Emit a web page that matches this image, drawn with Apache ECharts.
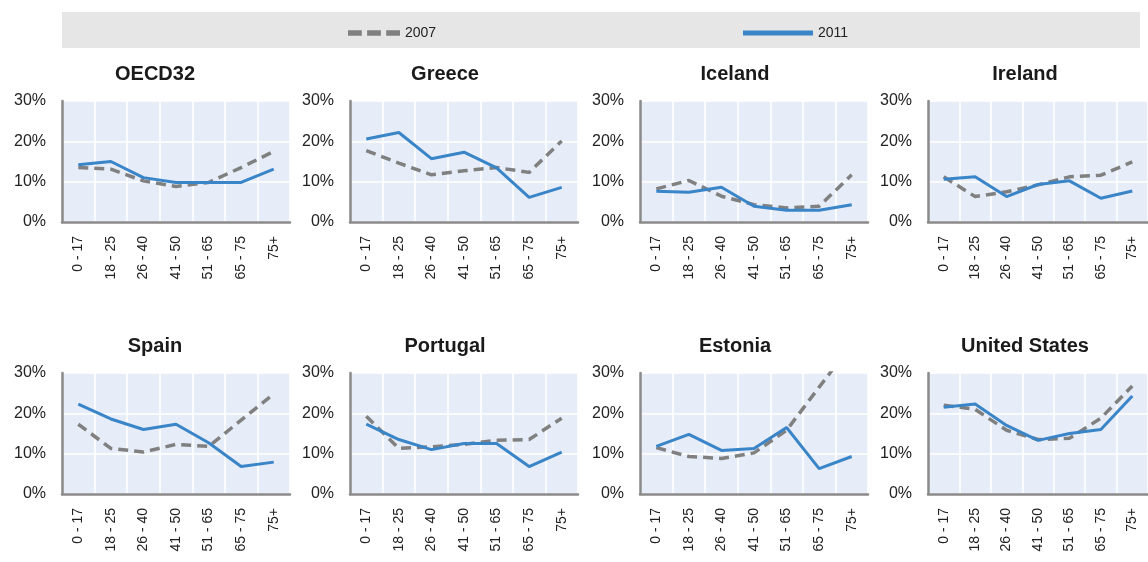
<!DOCTYPE html>
<html>
<head>
<meta charset="utf-8">
<script src="https://cdn.jsdelivr.net/npm/echarts@6/dist/echarts.min.js"></script>
<style>
html, body { margin: 0; padding: 0; background: #fff; }
#chart { width: 1148px; height: 562px; }
</style>
</head>
<body>
<div id="chart"></div>
<script>
// age groups on every x axis
var ages = ['0 - 17', '18 - 25', '26 - 40', '41 - 50', '51 - 65', '65 - 75', '75+'];
var countries = ['OECD32', 'Greece', 'Iceland', 'Ireland', 'Spain', 'Portugal', 'Estonia', 'United States'];
var yTicks = [0, 10, 20, 30];

// poverty rates (%)
var oecd2007 = [13.5, 13.1, 10.2, 8.8, 9.8, 13.5, 17.5];
var oecd2011 = [14.2, 15.0, 11.0, 9.8, 9.8, 9.8, 13.1];
var greece2007 = [17.7, 14.6, 11.7, 12.7, 13.5, 12.3, 20.1];
var greece2011 = [20.6, 22.2, 15.7, 17.3, 13.4, 6.1, 8.6];
var iceland2007 = [8.2, 10.3, 6.4, 4.3, 3.5, 3.9, 11.7];
var iceland2011 = [7.6, 7.4, 8.6, 3.9, 2.9, 2.9, 4.3];
var ireland2007 = [11.2, 6.3, 7.5, 9.2, 11.2, 11.6, 14.9];
var ireland2011 = [10.6, 11.2, 6.3, 9.3, 10.2, 5.9, 7.7];
var spain2007 = [17.3, 11.3, 10.4, 12.3, 11.8, 18.3, 24.8];
var spain2011 = [22.3, 18.6, 16.0, 17.3, 12.7, 6.8, 7.9];
var portugal2007 = [19.3, 11.3, 11.7, 12.3, 13.3, 13.5, 18.8];
var portugal2011 = [17.3, 13.5, 11.0, 12.5, 12.5, 6.8, 10.4];
var estonia2007 = [11.5, 9.3, 8.8, 10.2, 15.8, 26.5, 37.0];
var estonia2011 = [11.8, 14.8, 10.8, 11.3, 16.5, 6.3, 9.3];
var us2007 = [22.0, 21.0, 15.8, 13.5, 13.8, 18.8, 26.8];
var us2011 = [21.5, 22.3, 17.0, 13.3, 15.0, 16.0, 24.3];

var data2007 = [oecd2007, greece2007, iceland2007, ireland2007, spain2007, portugal2007, estonia2007, us2007];
var data2011 = [oecd2011, greece2011, iceland2011, ireland2011, spain2011, portugal2011, estonia2011, us2011];

var FONT = 'Liberation Sans, Arial, sans-serif';
var colLeft = [62, 350, 640, 928];
var titleX = [150, 440, 730, 1020];
var rowTop = [101, 373];
var rowTitle = [59, 331];

var grids = [], xAxes = [], yAxes = [], series = [], titles = [];

for (var i = 0; i < countries.length; i++) {
	var r = Math.floor(i / 4), c = i % 4;
	grids.push({
		left: colLeft[c], top: rowTop[r], width: 228, height: 121,
		show: true, backgroundColor: '#e6edf8', borderWidth: 0
	});
	titles.push({
		text: countries[i], left: titleX[c], top: rowTitle[r], textAlign: 'center',
		textStyle: { fontFamily: FONT, fontSize: 20, fontWeight: 'bold', color: '#1a1a1a' }
	});
	xAxes.push({
		type: 'category', gridIndex: i, data: ages, boundaryGap: true,
		axisLine: { lineStyle: { color: '#8a8a8a', width: 2.5 } },
		axisTick: { show: false },
		splitLine: { show: true, lineStyle: { color: '#ffffff', width: 1.5 } },
		axisLabel: { rotate: 90, margin: 14, fontFamily: FONT, fontSize: 14, color: '#222', interval: 0 }
	});
	yAxes.push({
		type: 'value', gridIndex: i, min: 0, max: 30, interval: 10,
		axisLine: { show: true, lineStyle: { color: '#8a8a8a', width: 2.5 } },
		axisTick: { show: false },
		splitLine: { show: true, lineStyle: { color: '#ffffff', width: 1.5 } },
		axisLabel: { margin: 16, fontFamily: FONT, fontSize: 16, color: '#222', formatter: '{value}%' }
	});
	series.push({
		name: '2007', type: 'line', xAxisIndex: i, yAxisIndex: i, data: data2007[i],
		showSymbol: false, symbol: 'none', clip: true,
		lineStyle: { color: '#808080', width: 3.5, type: [10, 6] },
		itemStyle: { color: '#808080' }
	});
	series.push({
		name: '2011', type: 'line', xAxisIndex: i, yAxisIndex: i, data: data2011[i],
		showSymbol: false, symbol: 'none', clip: true,
		lineStyle: { color: '#3a84c8', width: 3 },
		itemStyle: { color: '#3a84c8' }
	});
}

var myChart = echarts.init(document.getElementById('chart'));
myChart.setOption({
	animation: false,
	graphic: [{
		type: 'rect', left: 62, top: 12, silent: true, z: -1,
		shape: { width: 1078, height: 36 },
		style: { fill: '#e6e6e6' }
	}],
	legend: [{
		data: ['2007'], left: 343, top: 21, itemWidth: 52, itemHeight: 6, itemGap: 6,
		icon: 'path://M0,0h13v5h-13z M18,0h13v5h-13z M36,0h13v5h-13z',
		itemStyle: { color: '#808080' },
		textStyle: { fontFamily: FONT, fontSize: 14, color: '#222' }
	}, {
		data: ['2011'], left: 738, top: 21, itemWidth: 70, itemHeight: 5, itemGap: 6,
		icon: 'rect',
		itemStyle: { color: '#3a84c8' },
		textStyle: { fontFamily: FONT, fontSize: 14, color: '#222' }
	}],
	title: titles,
	grid: grids,
	xAxis: xAxes,
	yAxis: yAxes,
	series: series
});
</script>
</body>
</html>
